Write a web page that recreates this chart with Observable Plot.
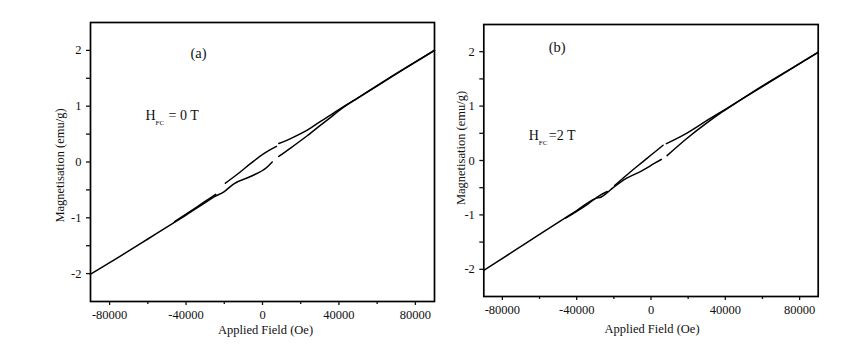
<!DOCTYPE html>
<html><head><meta charset="utf-8">
<script src="https://cdn.jsdelivr.net/npm/d3@7"></script>
<script src="https://cdn.jsdelivr.net/npm/@observablehq/plot@0.6"></script>
<style>
html,body{margin:0;padding:0;background:#fff;}
#wrap{position:relative;width:861px;height:364px;overflow:hidden;background:#fff;}
#wrap > svg{position:absolute;top:0;}
</style></head>
<body><div id="wrap"></div>
<script>
// ---- axis ticks ----
const xMajor = [-80000, -40000, 0, 40000, 80000];
const xMinor = [-60000, -20000, 20000, 60000];
const yMajor = [-2, -1, 0, 1, 2];
const yMinor = [-1.5, -0.5, 0.5, 1.5];

// ---- panel (a): H_FC = 0 T ----
// descending-field branch (null = gap in the trace)
const aDownH = [90000, 70000, 50000, 40000, 35600, 30400, 23400, 14700, 8500, null, 7300, 700, -6300, -13200, -19400, null, -24500, -28000, -35000, -46000];
const aDownM = [2.00, 1.58, 1.15, 0.94, 0.84, 0.73, 0.57, 0.42, 0.33, null, 0.28, 0.15, -0.03, -0.22, -0.38, null, -0.58, -0.66, -0.82, -1.07];
// ascending-field branch
const aUpH = [-90000, -75000, -60000, -40000, -30000, -25600, -20000, -15000, -6300, 2500, 5100, null, 8500, 14700, 23400, 30400, 36000, 40000, 50000, 60000, 75000, 90000];
const aUpM = [-2.01, -1.70, -1.38, -0.95, -0.73, -0.63, -0.53, -0.39, -0.26, -0.09, 0.00, null, 0.10, 0.25, 0.47, 0.66, 0.81, 0.92, 1.15, 1.37, 1.69, 2.00];

// ---- panel (b): H_FC = 2 T ----
const bDownH = [90000, 70000, 50000, 40000, 30800, 19100, 8300, null, 6500, 2900, -2500, -7900, -13500, -19600, null, -23500, -27500, -34000, -46000];
const bDownM = [1.99, 1.57, 1.15, 0.94, 0.75, 0.50, 0.31, null, 0.28, 0.18, 0.03, -0.12, -0.28, -0.46, null, -0.57, -0.64, -0.80, -1.06];
const bUpH = [-90000, -75000, -60000, -40000, -30000, -26800, -20000, -13300, -5000, 2000, 5600, null, 8650, 19100, 30800, 37000, 45000, 60000, 75000, 90000];
const bUpM = [-2.02, -1.69, -1.36, -0.92, -0.70, -0.67, -0.49, -0.33, -0.19, -0.05, 0.02, null, 0.09, 0.40, 0.71, 0.86, 1.04, 1.37, 1.68, 1.99];

// ---- texts ----
const xTitle = ["Applied Field (Oe)"];
const yTitle = ["Magnetisation (emu/g)"];
const tagA = ["(a)"], tagB = ["(b)"];
const fcH = ["H"], fcSub = ["FC"];
const fcA = ["= 0 T"], fcB = ["=2 T"];

const pts = (H, M) => H.map((h, i) => ({H: h, M: M[i]}));
const FONT = "'Liberation Serif', 'Times New Roman', serif";
const INK = "#111";

function panel(p) {
  const svg = Plot.plot({
    width: p.width, height: 364,
    marginLeft: p.mL, marginRight: p.mR, marginTop: p.mT, marginBottom: p.mB,
    x: {domain: [-90000, 90000]},
    y: {domain: [-2.5, 2.5]},
    style: {fontFamily: FONT, fontSize: "12.5px", color: INK, background: "none", overflow: "visible"},
    marks: [
      Plot.axisX(xMajor, {tickSize: 4, tickPadding: 5, tickFormat: d => String(d), label: null, stroke: INK, strokeWidth: 1.3}),
      Plot.axisX(xMinor, {tickSize: 3, tickFormat: () => "", label: null, stroke: INK, strokeWidth: 1.3}),
      Plot.axisY(yMajor, {tickSize: 4, tickPadding: 5, tickFormat: d => String(d), label: null, stroke: INK, strokeWidth: 1.3}),
      Plot.axisY(yMinor, {tickSize: 4, tickFormat: () => "", label: null, stroke: INK, strokeWidth: 1.3}),
      Plot.line(pts(p.upH, p.upM), {x: "H", y: "M", stroke: "#000", strokeWidth: 1.5, curve: "monotone-x"}),
      Plot.line(pts(p.downH, p.downM), {x: "H", y: "M", stroke: "#000", strokeWidth: 1.5, curve: "monotone-x"}),
      Plot.frame({stroke: "#000", strokeWidth: 1.7}),
      Plot.text(xTitle, {text: d => d, frameAnchor: "bottom", textAnchor: "middle", lineAnchor: "middle", dx: p.xdx, dy: p.xdy, fontSize: 12.5, fill: INK}),
      Plot.text(yTitle, {text: d => d, frameAnchor: "left", rotate: -90, textAnchor: "middle", lineAnchor: "middle", dx: p.ydx, dy: p.ydy, fontSize: 12.5, fill: INK}),
      Plot.text(p.tag, {text: d => d, frameAnchor: "top-left", textAnchor: "middle", lineAnchor: "middle", dx: p.tdx, dy: p.tdy, fontSize: 14.5, fill: INK}),
      Plot.text(fcH, {text: d => d, frameAnchor: "top-left", textAnchor: "start", lineAnchor: "middle", dx: p.hdx, dy: p.hdy, fontSize: 14, fill: INK}),
      Plot.text(fcSub, {text: d => d, frameAnchor: "top-left", textAnchor: "start", lineAnchor: "middle", dx: p.hdx + 10, dy: p.hdy + 7.5, fontSize: 7, fill: INK}),
      Plot.text(p.fc, {text: d => d, frameAnchor: "top-left", textAnchor: "start", lineAnchor: "middle", dx: p.fdx, dy: p.hdy, fontSize: 14, fill: INK})
    ]
  });
  svg.style.left = p.left + "px";
  return svg;
}

const wrap = document.getElementById("wrap");
wrap.appendChild(panel({
  left: 0, width: 440, mL: 90, mR: 6, mT: 22, mB: 63,
  downH: aDownH, downM: aDownM, upH: aUpH, upM: aUpM,
  xdx: 3, xdy: 28, ydx: -30.5, ydy: 3.5,
  tag: tagA, tdx: 108, tdy: 31,
  hdx: 55, hdy: 93, fdx: 78, fc: fcA
}));
wrap.appendChild(panel({
  left: 420, width: 441, mL: 63.3, mR: 43.3, mT: 24, mB: 68,
  downH: bDownH, downM: bDownM, upH: bUpH, upM: bUpM,
  xdx: 1, xdy: 32.3, ydx: -23.3, ydy: -12.5,
  tag: tagB, tdx: 73.4, tdy: 22.7,
  hdx: 45, hdy: 111, fdx: 65, fc: fcB
}));
</script>
</body></html>
